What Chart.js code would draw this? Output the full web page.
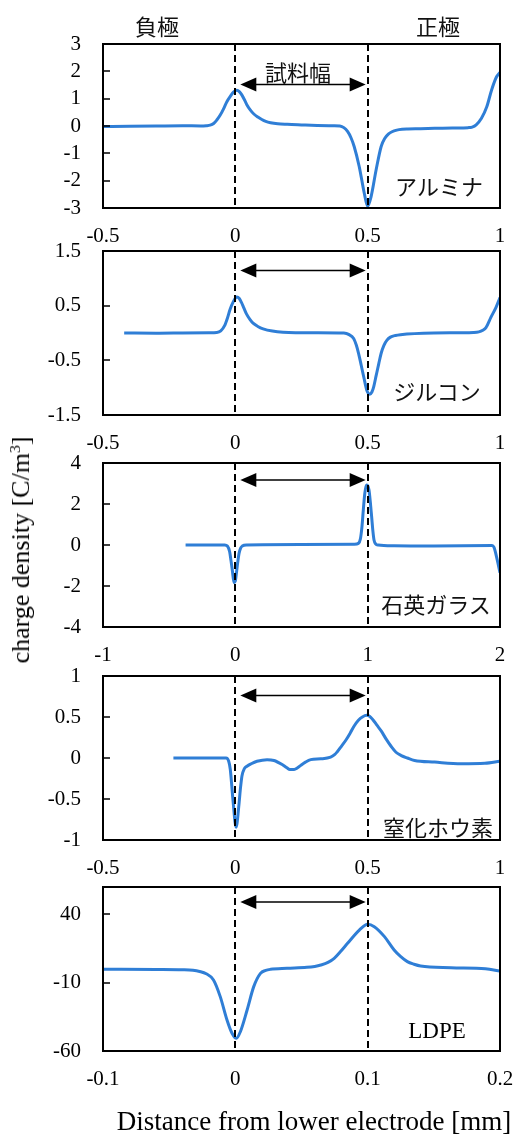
<!DOCTYPE html>
<html><head><meta charset="utf-8">
<script src="https://cdn.jsdelivr.net/npm/chart.js@4/dist/chart.umd.min.js"></script>
<style>
html,body{margin:0;padding:0;background:#fff;}
#wrap{position:relative;width:513px;height:1134px;overflow:hidden;background:#fff;}
canvas{position:absolute;left:0;}
.lbl{position:absolute;transform:translate(-50%,-50%);white-space:nowrap;color:#000;line-height:1;}
.jp{font-family:"Noto Sans CJK JP","Noto Sans",sans-serif;font-size:22px;font-weight:400;color:#111;}
.serif{font-family:"Liberation Serif","Times New Roman",serif;}
#ytitle{transform:translate(-50%,-50%) rotate(-90deg);}
sup{font-size:60%;vertical-align:0.6em;line-height:0;}
</style></head>
<body><div id="wrap">
<canvas id="c1" width="513" height="221"></canvas>
<canvas id="c2" width="513" height="221"></canvas>
<canvas id="c3" width="513" height="221"></canvas>
<canvas id="c4" width="513" height="221"></canvas>
<canvas id="c5" width="513" height="221"></canvas>
<div class="lbl jp" style="left:157px;top:25px;">負極</div>
<div class="lbl jp" style="left:438px;top:25px;">正極</div>
<div class="lbl jp" style="left:298px;top:71px;">試料幅</div>
<div class="lbl jp" style="left:439px;top:185px;">アルミナ</div>
<div class="lbl jp" style="left:437px;top:390px;">ジルコン</div>
<div class="lbl jp" style="left:436px;top:603px;">石英ガラス</div>
<div class="lbl jp" style="left:438px;top:826px;">窒化ホウ素</div>
<div class="lbl serif" style="left:437px;top:1030px;font-size:23px;">LDPE</div>
<div class="lbl serif" style="left:314px;top:1121px;font-size:27px;">Distance from lower electrode [mm]</div>
<div id="ytitle" class="lbl serif" style="left:21px;top:550px;font-size:26px;">charge density [C/m<sup>3</sup>]</div>
</div>
<script>
// ---- Data ----
// アルミナ
const x1 = [-0.5,-0.4,-0.3,-0.2,-0.13,-0.11,-0.095,-0.082,-0.07,-0.057,-0.045,-0.032,-0.018,-0.006,0.006,0.015,0.025,0.035,0.044,0.057,0.07,0.085,0.1,0.115,0.133,0.16,0.196,0.25,0.31,0.37,0.395,0.41,0.424,0.437,0.449,0.468,0.487,0.5,0.513,0.532,0.551,0.565,0.578,0.592,0.61,0.63,0.652,0.7,0.753,0.82,0.88,0.895,0.91,0.93,0.95,0.968,0.987,1.0];
const y1 = [-0.02,-0.01,0,0.01,0,0.01,0.03,0.09,0.22,0.4,0.62,0.89,1.1,1.25,1.31,1.26,1.13,0.95,0.77,0.58,0.44,0.33,0.24,0.17,0.12,0.08,0.06,0.04,0.02,0.01,0,-0.06,-0.2,-0.43,-0.75,-1.48,-2.45,-2.94,-2.58,-1.6,-0.75,-0.45,-0.3,-0.21,-0.15,-0.12,-0.11,-0.1,-0.085,-0.07,-0.06,-0.04,0.04,0.28,0.7,1.31,1.8,1.96];
// ジルコン
const x2 = [-0.42,-0.3,-0.2,-0.1,-0.07,-0.055,-0.04,-0.03,-0.02,-0.008,0.006,0.015,0.023,0.032,0.042,0.055,0.067,0.085,0.105,0.14,0.18,0.3,0.41,0.43,0.447,0.457,0.466,0.476,0.485,0.497,0.508,0.516,0.523,0.532,0.542,0.551,0.561,0.573,0.586,0.605,0.624,0.75,0.9,0.92,0.935,0.947,0.966,0.985,1.0];
const y2 = [0,-0.005,0,0.005,0.01,0.04,0.14,0.27,0.43,0.57,0.66,0.63,0.56,0.46,0.35,0.25,0.18,0.12,0.076,0.035,0.015,0.005,0,-0.03,-0.1,-0.22,-0.38,-0.6,-0.8,-1.05,-1.12,-1.08,-0.98,-0.78,-0.56,-0.37,-0.23,-0.13,-0.076,-0.045,-0.03,0,0.01,0.02,0.05,0.1,0.29,0.47,0.65];
// 石英ガラス
const x3 = [-0.376,-0.2,-0.08,-0.06,-0.043,-0.033,-0.023,-0.01,0,0.008,0.018,0.028,0.04,0.053,0.083,0.5,0.9,0.93,0.945,0.957,0.967,0.978,0.99,1.0,1.01,1.02,1.03,1.04,1.048,1.06,1.08,1.2,1.5,1.94,1.955,1.965,1.985,2.0];
const y3 = [0,0,0,-0.05,-0.33,-0.75,-1.22,-1.84,-1.75,-1.38,-0.85,-0.41,-0.15,-0.05,0,0.02,0.04,0.08,0.3,0.9,1.7,2.5,2.93,2.9,2.68,2.1,1.38,0.65,0.24,0.06,0,-0.04,-0.05,-0.03,-0.12,-0.33,-0.9,-1.35];
// 窒化ホウ素
const x4 = [-0.234,-0.1,-0.035,-0.025,-0.019,-0.009,0.003,0.013,0.019,0.025,0.034,0.044,0.06,0.082,0.12,0.146,0.177,0.195,0.206,0.222,0.235,0.247,0.265,0.285,0.323,0.36,0.375,0.386,0.4,0.418,0.435,0.449,0.465,0.48,0.496,0.507,0.519,0.535,0.551,0.57,0.589,0.607,0.627,0.65,0.677,0.753,0.854,0.943,1.0];
const y4 = [0,0,0,-0.04,-0.14,-0.51,-0.845,-0.59,-0.38,-0.22,-0.13,-0.1,-0.07,-0.04,-0.02,-0.03,-0.08,-0.12,-0.14,-0.14,-0.12,-0.09,-0.05,-0.02,-0.01,0.01,0.04,0.08,0.14,0.22,0.31,0.39,0.46,0.5,0.52,0.51,0.47,0.4,0.33,0.23,0.14,0.07,0.03,0,-0.03,-0.05,-0.07,-0.065,-0.04];
// LDPE
const x5 = [-0.1,-0.06,-0.04,-0.032,-0.027,-0.022,-0.0165,-0.0114,-0.0063,-0.0025,0.0008,0.0038,0.0089,0.0139,0.019,0.023,0.0266,0.039,0.054,0.06,0.0646,0.07,0.0747,0.0795,0.0848,0.0937,0.1,0.105,0.1127,0.12,0.125,0.13,0.135,0.14,0.163,0.189,0.2];
const y5 = [-0.2,-0.3,-0.5,-0.9,-1.8,-3.5,-8,-20.2,-37.3,-47,-50.7,-45.9,-30,-12.9,-3.2,-1,-0.24,0.5,1.2,1.9,2.9,4.8,7.8,12.8,18.8,28.5,32.7,31,23.7,13.9,9,5.4,3.5,2.2,1,0.2,-1.5];

// tick labels
const xTicks1 = [-0.5,0,0.5,1];
const xTicks2 = [-0.5,0,0.5,1];
const xTicks3 = [-1,0,1,2];
const xTicks4 = [-0.5,0,0.5,1];
const xTicks5 = [-0.1,0,0.1,0.2];
const yTicks1 = [-3,-2,-1,0,1,2,3];
const yTicks2 = [-1.5,-0.5,0.5,1.5];
const yTicks3 = [-4,-2,0,2,4];
const yTicks4 = [-1,-0.5,0,0.5,1];
const yTicks5 = [-60,-10,40];
// sample boundaries (dashed lines)
const edges1 = [0,0.5], edges2 = [0,0.5], edges3 = [0,1], edges4 = [0,0.5], edges5 = [0,0.1];

// ---- Layout ----
const PADT = 12, XH = 45, BOXH = 164, LEFT = 103;
const panels = [
  {id:'c1', x:x1, y:y1, xt:xTicks1, yt:yTicks1, xr:[-0.5,1], yr:[-3,3], edges:edges1, top:44, arrow:40.5},
  {id:'c2', x:x2, y:y2, xt:xTicks2, yt:yTicks2, xr:[-0.5,1], yr:[-1.5,1.5], edges:edges2, top:251, arrow:19.5},
  {id:'c3', x:x3, y:y3, xt:xTicks3, yt:yTicks3, xr:[-1,2], yr:[-4,4], edges:edges3, top:463, arrow:17},
  {id:'c4', x:x4, y:y4, xt:xTicks4, yt:yTicks4, xr:[-0.5,1], yr:[-1,1], edges:edges4, top:676, arrow:19.5},
  {id:'c5', x:x5, y:y5, xt:xTicks5, yt:yTicks5, xr:[-0.1,0.2], yr:[-60,60], edges:edges5, top:887, arrow:15}
];

const framePlugin = {
  id:'frame',
  afterDatasetsDraw(chart, args, opts){
    const {ctx, chartArea:a} = chart;
    const xs = chart.scales.x, ys = chart.scales.y;
    ctx.save();
    ctx.strokeStyle = '#000';
    ctx.lineWidth = 1.5;
    ys.ticks.forEach(t => {
      const py = Math.round(ys.getPixelForValue(t.value));
      if (py > a.top + 2 && py < a.bottom - 2) {
        ctx.beginPath(); ctx.moveTo(a.left, py); ctx.lineTo(a.left + 7, py); ctx.stroke();
      }
    });
    ctx.setLineDash([7,4]); ctx.lineWidth = 2;
    opts.edges.forEach(m => {
      const px = Math.round(xs.getPixelForValue(m));
      ctx.beginPath(); ctx.moveTo(px, a.top); ctx.lineTo(px, a.bottom); ctx.stroke();
    });
    ctx.setLineDash([]);
    const xa = xs.getPixelForValue(opts.edges[0]) + 5;
    const xb = xs.getPixelForValue(opts.edges[1]) - 2;
    const ay = a.top + opts.arrow;
    const hl = 16, hh = 7;
    ctx.lineWidth = 1.3;
    ctx.beginPath(); ctx.moveTo(xa + hl - 2, ay); ctx.lineTo(xb - hl + 2, ay); ctx.stroke();
    ctx.fillStyle = '#000';
    ctx.beginPath(); ctx.moveTo(xa, ay); ctx.lineTo(xa + hl, ay - hh); ctx.lineTo(xa + hl, ay + hh); ctx.closePath(); ctx.fill();
    ctx.beginPath(); ctx.moveTo(xb, ay); ctx.lineTo(xb - hl, ay - hh); ctx.lineTo(xb - hl, ay + hh); ctx.closePath(); ctx.fill();
    ctx.lineWidth = 2;
    ctx.strokeRect(a.left, a.top, a.right - a.left, a.bottom - a.top);
    ctx.restore();
  }
};

const tickFont = {family:'"Liberation Serif","Times New Roman",serif', size:21};

panels.forEach(p => {
  const cv = document.getElementById(p.id);
  cv.style.top = (p.top - PADT) + 'px';
  cv.height = BOXH + PADT + XH;
  new Chart(cv, {
    type:'line',
    data:{datasets:[{
      data:p.x.map((v,i)=>({x:v, y:p.y[i]})),
      borderColor:'#2f7ed6', borderWidth:3, pointRadius:0,
      cubicInterpolationMode:'monotone', fill:false
    }]},
    options:{
      responsive:false, animation:false, devicePixelRatio:1,
      layout:{padding:{top:PADT, right:13, left:0, bottom:0}},
      plugins:{legend:{display:false}, tooltip:{enabled:false}, frame:{edges:p.edges, arrow:p.arrow}},
      scales:{
        x:{type:'linear', min:p.xr[0], max:p.xr[1],
          afterBuildTicks:s=>{ s.ticks = p.xt.map(v=>({value:v})); },
          afterFit:s=>{ s.height = XH; s.paddingLeft = 0; s.paddingRight = 0; },
          grid:{display:false, drawTicks:false, tickLength:0}, border:{display:false},
          ticks:{font:tickFont, color:'#000', padding:16, maxRotation:0, autoSkip:false, callback:v=>String(v)}
        },
        y:{type:'linear', min:p.yr[0], max:p.yr[1],
          afterBuildTicks:s=>{ s.ticks = p.yt.map(v=>({value:v})); },
          afterFit:s=>{ s.width = LEFT; s.paddingTop = 0; s.paddingBottom = 0; },
          grid:{display:false, drawTicks:false, tickLength:0}, border:{display:false},
          ticks:{font:tickFont, color:'#000', padding:22, autoSkip:false, callback:v=>String(v)}
        }
      }
    },
    plugins:[framePlugin]
  });
});
</script>
</body></html>
